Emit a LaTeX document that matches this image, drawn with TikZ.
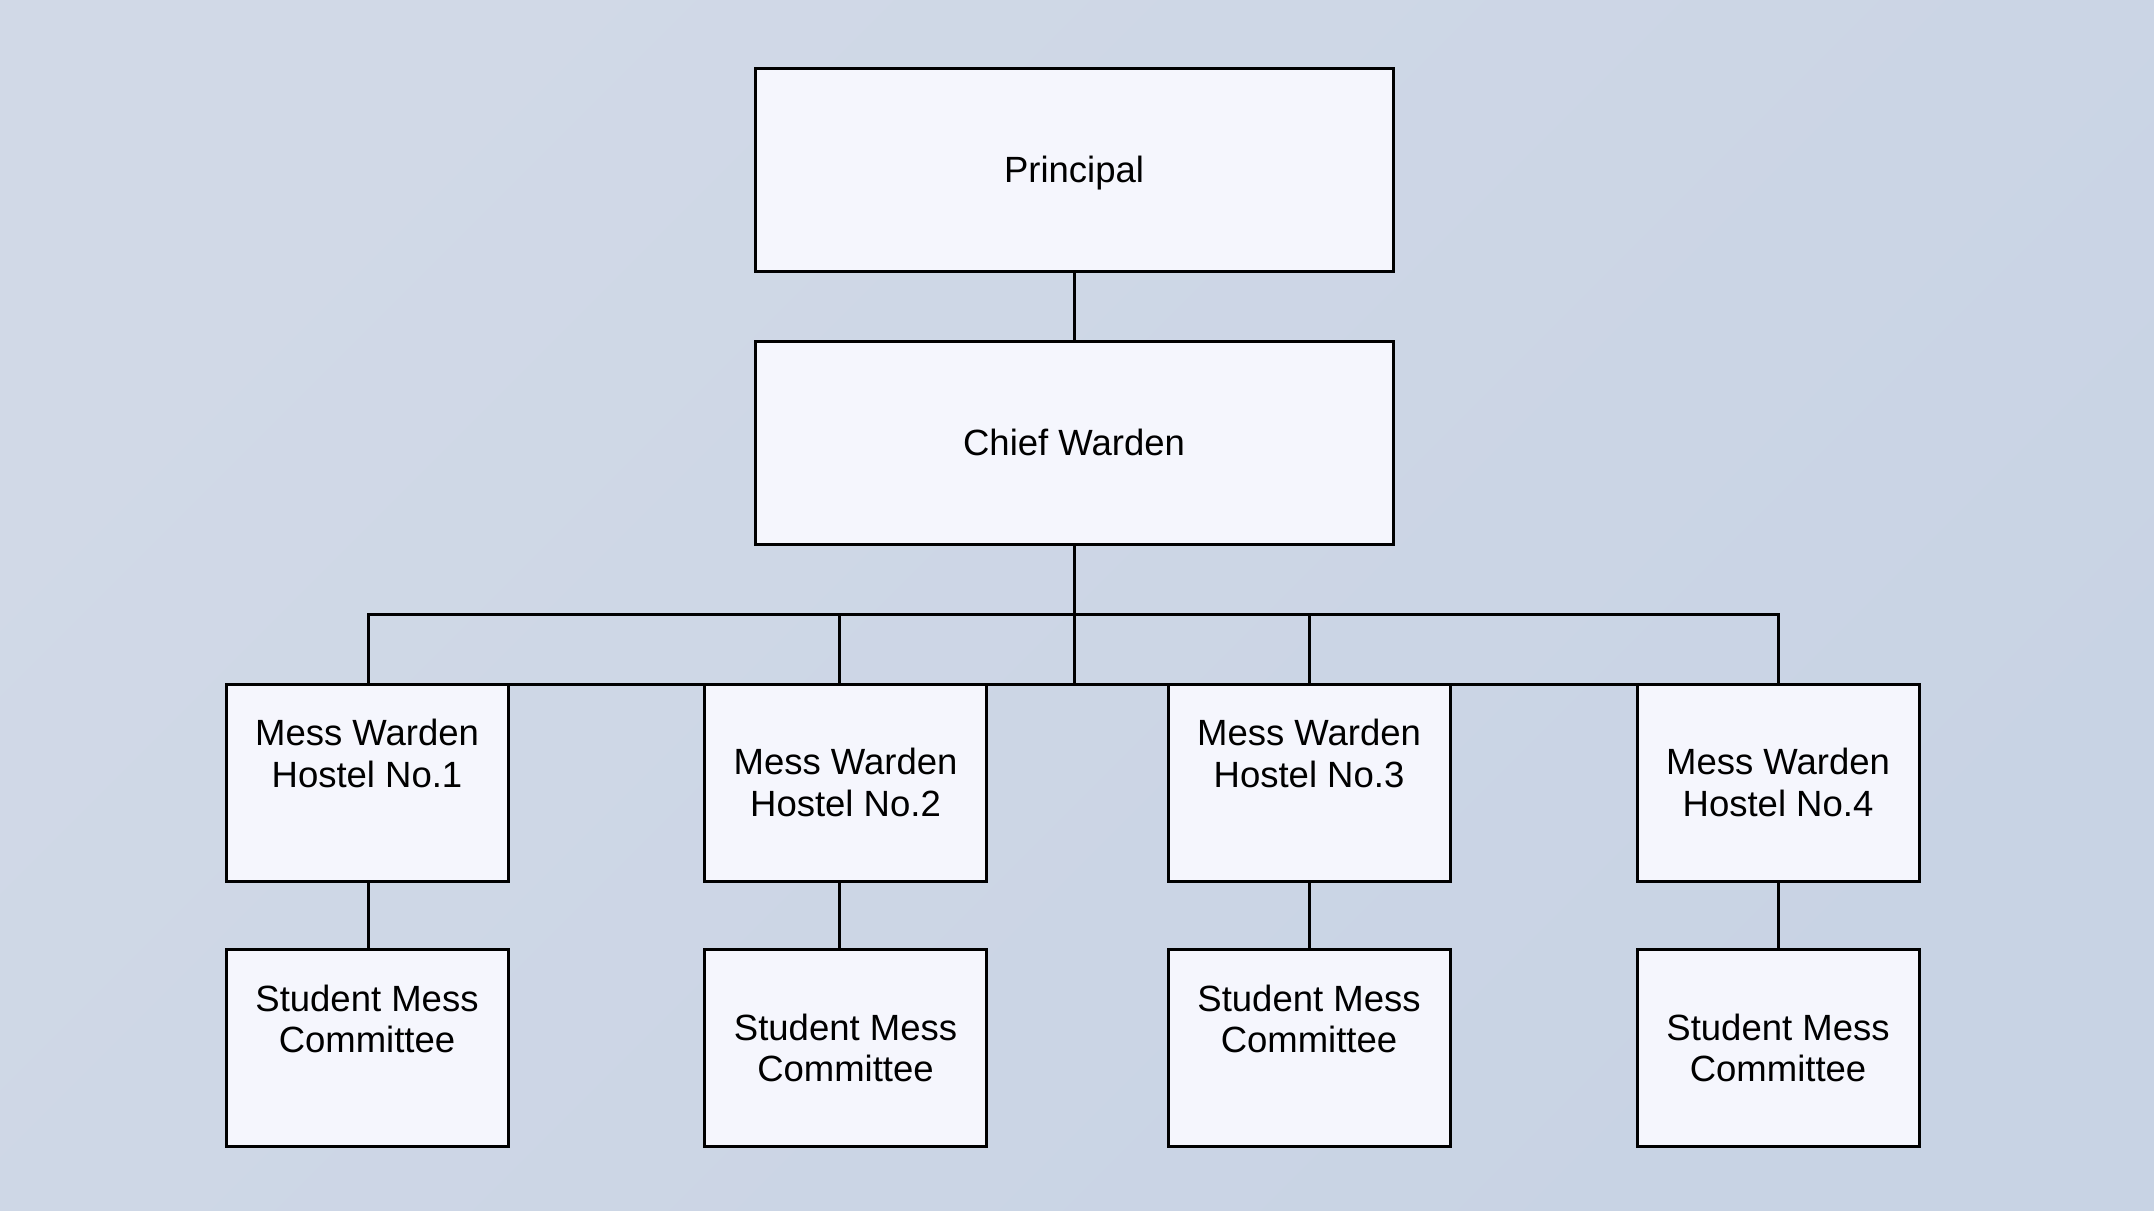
\documentclass[tikz,border=0pt]{standalone}
\usepackage{fontspec}
\setmainfont{Liberation Sans}
\definecolor{bgtop}{HTML}{D1D9E7}
\definecolor{bgbot}{HTML}{C8D3E4}
\definecolor{boxfill}{HTML}{F5F6FD}
\begin{document}
\begin{tikzpicture}[x=1pt,y=-1pt,
    post/.style={draw=black, line width=3pt, fill=boxfill, inner sep=0pt, outer sep=0pt, align=center,
        font=\fontsize{36.5}{41.5}\selectfont},
    big/.style={post, minimum width=638pt, minimum height=203pt, text depth=0pt},
    small/.style={post, minimum width=282pt, minimum height=197pt},
    txt/.style={inner sep=0pt, align=center, font=\fontsize{36.5}{41.5}\selectfont},
    link/.style={line width=3pt}]
            % background
            \useasboundingbox (0,0) rectangle (2154,1210);
            \shade[top color=bgtop, bottom color=bgbot, shading angle=45] (0,0) rectangle (2154,1210);

            \node[big] (prin) at (1074,169.5) {Principal};
            \node[big] (chief) at (1074,442.5) {Chief Warden};

            % mess wardens
            \node[small] (w1) at (367,782.5) {};
            \node[txt] (w1t) at ([yshift=29pt]w1.center) {Mess Warden\\Hostel No.1};
            \node[small] (w2) at (845.5,782.5) {Mess Warden\\Hostel No.2};
            \node[small] (w3) at (1309,782.5) {};
            \node[txt] (w3t) at ([yshift=29pt]w3.center) {Mess Warden\\Hostel No.3};
            \node[small] (w4) at (1778,782.5) {Mess Warden\\Hostel No.4};

            % student committees
            \node[small] (s1) at (367,1048) {};
            \node[txt] (s1t) at ([yshift=29pt]s1.center) {Student Mess\\Committee};
            \node[small] (s2) at (845.5,1048) {Student Mess\\Committee};
            \node[small] (s3) at (1309,1048) {};
            \node[txt] (s3t) at ([yshift=29pt]s3.center) {Student Mess\\Committee};
            \node[small] (s4) at (1778,1048) {Student Mess\\Committee};

            \coordinate (bar) at (1074,614);
            \draw[link] (prin) -- (chief);
            \draw[link] (chief) -- (chief.south |- w1.north);
            \draw[link] (w1.north east) -- (w4.north west);
            \draw[link] ([xshift=1.5pt]w1.north) |- (bar) -| (w4.north);
            \draw[link] ([xshift=-6.5pt]w2.north) -- ([xshift=-6.5pt]w2.north |- bar);
            \draw[link] (w3.north) -- (w3.north |- bar);

            \draw[link] ([xshift=1.5pt]w1.south) -- ([xshift=1.5pt]s1.north);
            \draw[link] ([xshift=-6.5pt]w2.south) -- ([xshift=-6.5pt]s2.north);
            \draw[link] (w3) -- (s3);
            \draw[link] (w4) -- (s4);
\end{tikzpicture}
\end{document}
